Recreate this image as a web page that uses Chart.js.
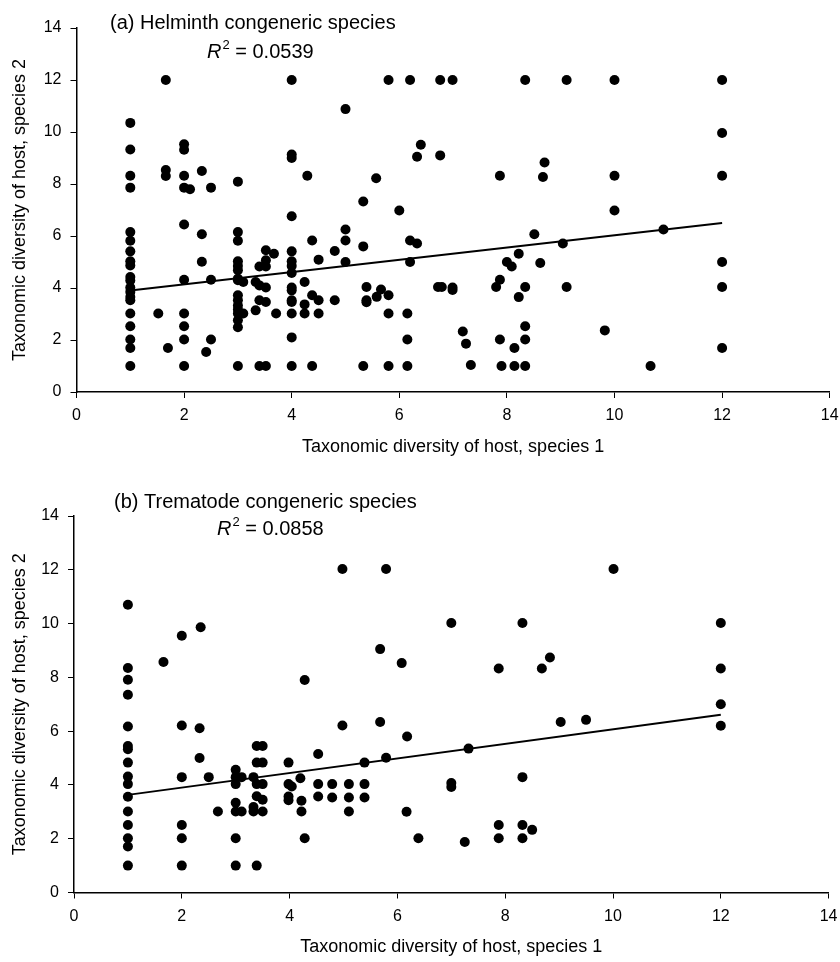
<!DOCTYPE html>
<html><head><meta charset="utf-8">
<script src="https://cdn.jsdelivr.net/npm/chart.js@4/dist/chart.umd.min.js"></script>
<style>
html,body{margin:0;padding:0;background:#fff;}
#wrap{position:relative;width:840px;height:962px;overflow:hidden;}
.box{position:absolute;left:0;width:840px;}
</style></head><body>
<div id="wrap">
<div class="box" style="top:0;height:481px"><canvas id="ca" width="840" height="481"></canvas></div>
<div class="box" style="top:481px;height:481px"><canvas id="cb" width="840" height="481"></canvas></div>
</div>
<script>
const xTicks = [0, 2, 4, 6, 8, 10, 12, 14];
const yTicks = [0, 2, 4, 6, 8, 10, 12, 14];
const xTitle = 'Taxonomic diversity of host, species 1';
const yTitle = 'Taxonomic diversity of host, species 2';
const titleA = '(a) Helminth congeneric species';
const titleB = '(b) Trematode congeneric species';
const r2A = '0.0539';
const r2B = '0.0858';

// Panel (a) Helminth congeneric species: [x, y]
const helminthPoints = [
  [1,10.35],[1,9.33],[1,8.32],[1,7.86],[1,6.15],[1,5.82],[1,5.41],[1,5.03],[1,4.87],[1,4.42],
  [1,4.29],[1,4.02],[1,3.85],[1,3.65],[1,3.53],[1,3.02],[1,2.53],[1,2.02],[1,1.69],[1,1],
  [1.52,3.02],[1.66,12],[1.66,8.54],[1.66,8.31],[1.7,1.69],
  [2,9.53],[2,9.32],[2,8.32],[2,7.86],[2,6.44],[2,4.32],[2,3.02],[2,2.53],[2,2.02],[2,1],
  [2.11,7.8],[2.33,8.5],[2.33,6.07],[2.33,5.01],[2.41,1.54],[2.5,7.86],[2.5,4.32],[2.5,2.02],
  [3,8.09],[3,6.15],[3,5.82],[3,5.03],[3,4.85],[3,4.68],[3,4.36],[3,4.3],[3,3.72],[3,3.53],
  [3,3.33],[3,3.17],[3,3.02],[3,2.76],[3,2.49],[3,1],
  [3.1,4.23],[3.1,3.02],[3.33,4.23],[3.33,3.14],[3.4,4.83],[3.4,4.1],[3.4,3.53],[3.4,1],
  [3.52,5.45],[3.52,5.07],[3.52,4.83],[3.52,4.02],[3.52,3.46],[3.52,1],[3.67,5.32],[3.71,3.02],
  [4,12],[4,9.13],[4,9.0],[4,6.76],[4,5.41],[4,5.03],[4,4.85],[4,4.58],[4,4.02],[4,3.91],
  [4,3.53],[4,3.46],[4,3.02],[4,2.1],[4,1],
  [4.24,4.23],[4.24,3.37],[4.24,3.02],[4.29,8.32],[4.38,5.83],[4.38,3.72],[4.38,1],
  [4.5,5.09],[4.5,3.53],[4.5,3.02],[4.8,5.42],[4.8,3.53],
  [5,10.88],[5,6.25],[5,5.83],[5,5.0],[5.33,7.33],[5.33,5.6],[5.33,1],
  [5.39,4.04],[5.39,3.53],[5.39,3.45],[5.57,8.22],[5.58,3.66],[5.66,3.94],
  [5.8,12],[5.8,3.72],[5.8,3.02],[5.8,1],[6,6.98],[6.15,3.02],[6.15,2.02],[6.15,1],
  [6.2,12],[6.2,5.83],[6.2,5.0],[6.33,9.05],[6.33,5.71],[6.4,9.51],
  [6.72,4.04],[6.76,12],[6.76,9.1],[6.79,4.04],[6.99,12],[6.99,4.02],[6.99,3.92],
  [7.18,2.33],[7.24,1.86],[7.33,1.04],[7.8,4.04],[7.87,8.32],[7.87,4.32],[7.87,2.02],[7.9,1],
  [8,5.0],[8.09,4.83],[8.14,1.69],[8.14,1],[8.22,5.32],[8.22,3.65],
  [8.34,12],[8.34,4.04],[8.34,2.53],[8.34,2.02],[8.34,1],[8.51,6.07],[8.62,4.96],
  [8.67,8.27],[8.7,8.83],[9.04,5.71],[9.11,12],[9.11,4.04],[9.82,2.37],
  [10,12],[10,8.32],[10,6.98],[10.67,1],[10.91,6.25],
  [12,12],[12,9.96],[12,8.32],[12,5.0],[12,4.04],[12,1.69]
];
const helminthTrend = [[1, 3.9], [12, 6.5]];

// Panel (b) Trematode congeneric species: [x, y]
const trematodePoints = [
  [1,10.7],[1,8.35],[1,7.91],[1,7.35],[1,6.17],[1,5.45],[1,5.33],[1,4.83],[1,4.31],[1,4.03],
  [1,3.56],[1,3.01],[1,2.51],[1,2.02],[1,1.71],[1,1],
  [1.66,8.57],[2,9.55],[2,6.21],[2,4.29],[2,2.51],[2,2.02],[2,1],
  [2.33,6.11],[2.33,5.0],[2.35,9.86],[2.5,4.29],[2.67,3.01],
  [3,4.56],[3,4.29],[3,4.03],[3,3.34],[3,3.01],[3,2.02],[3,1],
  [3.11,4.29],[3.11,3.01],[3.33,4.29],[3.33,3.18],[3.33,3.01],
  [3.39,5.45],[3.39,4.83],[3.39,4.03],[3.39,3.58],[3.39,1],
  [3.5,5.45],[3.5,4.83],[3.5,4.03],[3.5,3.45],[3.5,3.01],
  [3.98,4.83],[3.98,4.03],[3.98,3.57],[3.98,3.43],[4.04,3.94],[4.2,4.25],[4.22,3.41],[4.22,3.01],
  [4.28,7.9],[4.28,2.02],[4.53,5.15],[4.53,4.03],[4.53,3.57],[4.79,4.03],[4.79,3.53],
  [4.98,12.03],[4.98,6.21],[5.1,4.03],[5.1,3.53],[5.1,3.01],[5.39,4.83],[5.39,4.03],[5.39,3.53],
  [5.68,9.05],[5.68,6.34],[5.79,12.03],[5.79,5.01],[6.08,8.53],[6.17,3.0],[6.18,5.8],[6.39,2.02],
  [7,10.02],[7,4.07],[7,3.92],[7.25,1.88],[7.32,5.35],[7.88,8.33],[7.88,2.51],[7.88,2.02],
  [8.32,10.02],[8.32,4.29],[8.32,2.51],[8.32,2.02],[8.5,2.33],[8.68,8.33],[8.83,8.74],
  [9.03,6.34],[9.5,6.42],[10.01,12.03],
  [12,10.02],[12,8.33],[12,7.0],[12,6.2]
];
const trematodeTrend = [[1, 3.63], [12, 6.61]];

const FONT = "'Liberation Sans', Arial, sans-serif";
Chart.defaults.font.family = FONT;
Chart.defaults.color = '#000';

function toXY(arr) { return arr.map(p => ({x: p[0], y: p[1]})); }

function headingPlugin(title, r2, tx, ty, rx, ry) {
  return {
    id: 'heading',
    afterDraw(chart) {
      const ctx = chart.ctx;
      ctx.save();
      ctx.fillStyle = '#000';
      ctx.textBaseline = 'alphabetic';
      ctx.textAlign = 'left';
      ctx.font = "20px " + FONT;
      ctx.fillText(title, tx, ty);
      ctx.font = "italic 20px " + FONT;
      ctx.fillText('R', rx, ry);
      let x = rx + ctx.measureText('R').width + 1;
      ctx.font = "13px " + FONT;
      ctx.fillText('2', x, ry - 9);
      x += ctx.measureText('2').width;
      ctx.font = "20px " + FONT;
      ctx.fillText(' = ' + r2, x, ry);
      ctx.restore();
    }
  };
}

function makeChart(id, points, trend, yAxisW, padL, padR, padT, xAxisH, padB, plugin) {
  const tickFont = {size: 16, family: FONT};
  return new Chart(document.getElementById(id), {
    type: 'scatter',
    data: {
      datasets: [
        {data: toXY(points), backgroundColor: '#000', borderColor: '#000', pointRadius: 5, borderWidth: 0, pointHoverRadius: 5},
        {type: 'line', data: toXY(trend), borderColor: '#000', borderWidth: 2, pointRadius: 0, showLine: true, fill: false, tension: 0}
      ]
    },
    options: {
      responsive: false,
      animation: false,
      events: [],
      layout: {padding: {left: padL, right: padR, top: padT, bottom: padB}},
      plugins: {legend: {display: false}, tooltip: {enabled: false}},
      scales: {
        x: {
          type: 'linear', min: 0, max: 14,
          afterBuildTicks(s) { s.ticks = xTicks.map(v => ({value: v})); },
          ticks: {font: tickFont, color: '#000', padding: 8, maxRotation: 0},
          grid: {display: true, drawOnChartArea: false, drawTicks: true, tickLength: 6, color: '#000', lineWidth: 1},
          border: {display: true, color: '#000', width: 1.5},
          title: {display: true, text: xTitle, font: {size: 18, family: FONT}, color: '#000', padding: {top: 4, bottom: 4}},
          afterFit(s) { s.height = xAxisH; s.paddingLeft = 0; s.paddingRight = 0; }
        },
        y: {
          type: 'linear', min: 0, max: 14,
          afterBuildTicks(s) { s.ticks = yTicks.map(v => ({value: v})); },
          ticks: {font: tickFont, color: '#000', padding: 9},
          grid: {display: true, drawOnChartArea: false, drawTicks: true, tickLength: 6, color: '#000', lineWidth: 1},
          border: {display: true, color: '#000', width: 1.5},
          title: {display: true, text: yTitle, font: {size: 18, family: FONT}, color: '#000', padding: {top: 4, bottom: 4}},
          afterFit(s) { s.width = yAxisW; s.paddingTop = 0; s.paddingBottom = 0; }
        }
      }
    },
    plugins: [plugin]
  });
}

makeChart('ca', helminthPoints, helminthTrend, 71.5, 5, 10.3, 28, 70, 19,
  headingPlugin(titleA, r2A, 110, 29, 207, 58));
makeChart('cb', trematodePoints, trematodeTrend, 69, 5, 11.4, 35, 69.5, 0,
  headingPlugin(titleB, r2B, 114, 27, 217, 54));
</script>
</body></html>
